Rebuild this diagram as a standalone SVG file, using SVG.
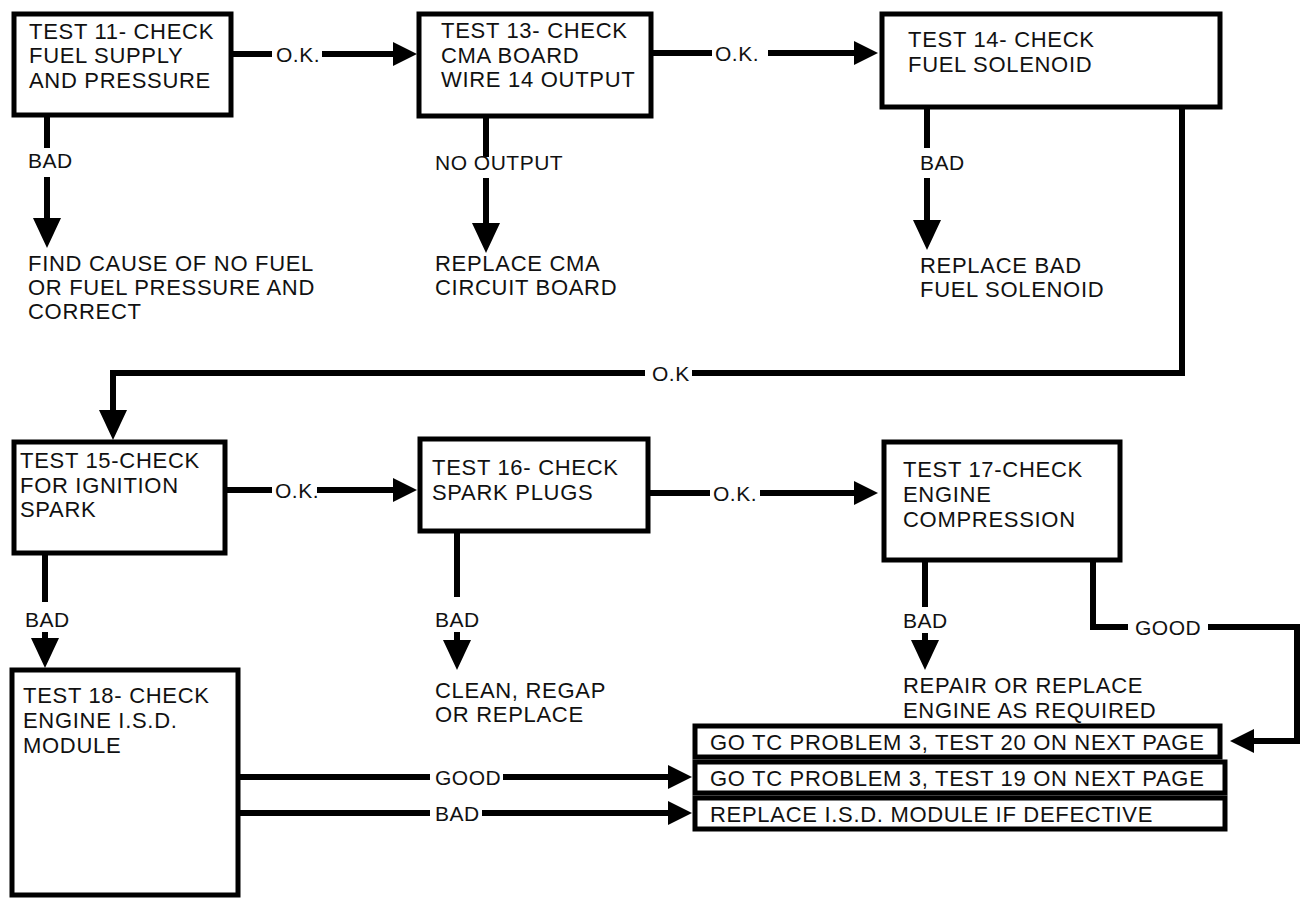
<svg xmlns="http://www.w3.org/2000/svg" width="1301" height="903" viewBox="0 0 1301 903">
<style>
.box{fill:#fff;stroke:#000;stroke-width:5}
.t{font-family:"Liberation Sans",Arial,sans-serif;font-size:22px;letter-spacing:0.7px;fill:#111}
.l{font-family:"Liberation Sans",Arial,sans-serif;font-size:21px;letter-spacing:0.5px;fill:#111}
.c{fill:none;stroke:#000;stroke-width:6}
.ca{fill:none;stroke:#000;stroke-width:6;marker-end:url(#ah)}
.cv{fill:none;stroke:#000;stroke-width:6;marker-end:url(#av)}
</style>
<defs>
<marker id="ah" markerUnits="userSpaceOnUse" markerWidth="24" markerHeight="24" viewBox="0 0 24 24" refX="0" refY="12" orient="auto"><path d="M0,0 L24,12 L0,24 Z" fill="#000"/></marker>
<marker id="av" markerUnits="userSpaceOnUse" markerWidth="30" markerHeight="28" viewBox="0 0 30 28" refX="0" refY="14" orient="auto"><path d="M0,0 L30,14 L0,28 Z" fill="#000"/></marker>
</defs>
<rect width="1301" height="903" fill="#fff"/>
<g id="connectors">
<path class="c" d="M233,54 H272"/><text class="l" x="276" y="62">O.K.</text><path class="ca" d="M322,54 H393"/>
<path class="c" d="M653,53 H712"/><text class="l" x="715" y="61">O.K.</text><path class="ca" d="M768,53 H854"/>
<path class="c" d="M47,117 V148"/><text class="l" x="28" y="168">BAD</text><path class="cv" d="M47,177 V218"/>
<path class="c" d="M486,118 V157"/><text class="l" x="435" y="170">NO OUTPUT</text><path class="cv" d="M486,178 V223"/>
<path class="c" d="M927,108 V148"/><text class="l" x="920" y="170">BAD</text><path class="cv" d="M927,178 V220"/>
<path class="c" d="M1182,108 V373 H692"/><text class="l" x="652" y="381">O.K</text><path class="cv" d="M645,373 H113 V410"/>
<path class="c" d="M227,490 H272"/><text class="l" x="275" y="498">O.K.</text><path class="ca" d="M317,490 H393"/>
<path class="c" d="M650,493 H710"/><text class="l" x="713" y="501">O.K.</text><path class="ca" d="M760,493 H854"/>
<path class="c" d="M45,555 V602"/><text class="l" x="25" y="627">BAD</text><path class="cv" d="M45,632 V638"/>
<path class="c" d="M457,533 V597"/><text class="l" x="435" y="627">BAD</text><path class="cv" d="M457,632 V640"/>
<path class="c" d="M925,560 V607"/><text class="l" x="903" y="628">BAD</text><path class="cv" d="M925,633 V640"/>
<path class="c" d="M1093,560 V627 H1128"/><text class="l" x="1135" y="635">GOOD</text><path class="ca" d="M1208,627 H1297 V741 H1254"/>
<path class="c" d="M240,777 H430"/><text class="l" x="435" y="785">GOOD</text><path class="ca" d="M503,777 H668"/>
<path class="c" d="M240,813 H430"/><text class="l" x="435" y="821">BAD</text><path class="ca" d="M482,813 H668"/>
</g>
<g id="test11"><rect class="box" x="14" y="14" width="217" height="101"/><text class="t" x="29" y="39">TEST 11- CHECK</text><text class="t" x="29" y="63">FUEL SUPPLY</text><text class="t" x="29" y="88">AND PRESSURE</text></g>
<g id="test13"><rect class="box" x="419" y="14" width="232" height="102"/><text class="t" x="441" y="38">TEST 13- CHECK</text><text class="t" x="441" y="63">CMA BOARD</text><text class="t" x="441" y="87">WIRE 14 OUTPUT</text></g>
<g id="test14"><rect class="box" x="882" y="14" width="338" height="93"/><text class="t" x="908" y="47">TEST 14- CHECK</text><text class="t" x="908" y="72">FUEL SOLENOID</text></g>
<g id="r11"><text class="t" x="28" y="271">FIND CAUSE OF NO FUEL</text><text class="t" x="28" y="295">OR FUEL PRESSURE AND</text><text class="t" x="28" y="319">CORRECT</text></g>
<g id="r13"><text class="t" x="435" y="271">REPLACE CMA</text><text class="t" x="435" y="295">CIRCUIT BOARD</text></g>
<g id="r14"><text class="t" x="920" y="273">REPLACE BAD</text><text class="t" x="920" y="297">FUEL SOLENOID</text></g>
<g id="test15"><rect class="box" x="14" y="442" width="211" height="111"/><text class="t" x="20" y="468">TEST 15-CHECK</text><text class="t" x="20" y="493">FOR IGNITION</text><text class="t" x="20" y="517">SPARK</text></g>
<g id="test16"><rect class="box" x="420" y="439" width="228" height="92"/><text class="t" x="432" y="475">TEST 16- CHECK</text><text class="t" x="432" y="500">SPARK PLUGS</text></g>
<g id="test17"><rect class="box" x="884" y="442" width="236" height="118"/><text class="t" x="903" y="477">TEST 17-CHECK</text><text class="t" x="903" y="502">ENGINE</text><text class="t" x="903" y="527">COMPRESSION</text></g>
<g id="r16"><text class="t" x="435" y="698">CLEAN, REGAP</text><text class="t" x="435" y="722">OR REPLACE</text></g>
<g id="r17"><text class="t" x="903" y="693">REPAIR OR REPLACE</text><text class="t" x="903" y="718">ENGINE AS REQUIRED</text></g>
<g id="test18"><rect class="box" x="12" y="670" width="226" height="225"/><text class="t" x="23" y="703">TEST 18- CHECK</text><text class="t" x="23" y="728">ENGINE I.S.D.</text><text class="t" x="23" y="753">MODULE</text></g>
<g id="go20"><rect class="box" x="695" y="726" width="525" height="31"/><text class="t" x="710" y="750">GO TC PROBLEM 3, TEST 20 ON NEXT PAGE</text></g>
<g id="go19"><rect class="box" x="695" y="762" width="530" height="31"/><text class="t" x="710" y="786">GO TC PROBLEM 3, TEST 19 ON NEXT PAGE</text></g>
<g id="replace"><rect class="box" x="695" y="798" width="530" height="31"/><text class="t" x="710" y="822">REPLACE I.S.D. MODULE IF DEFECTIVE</text></g>
</svg>
